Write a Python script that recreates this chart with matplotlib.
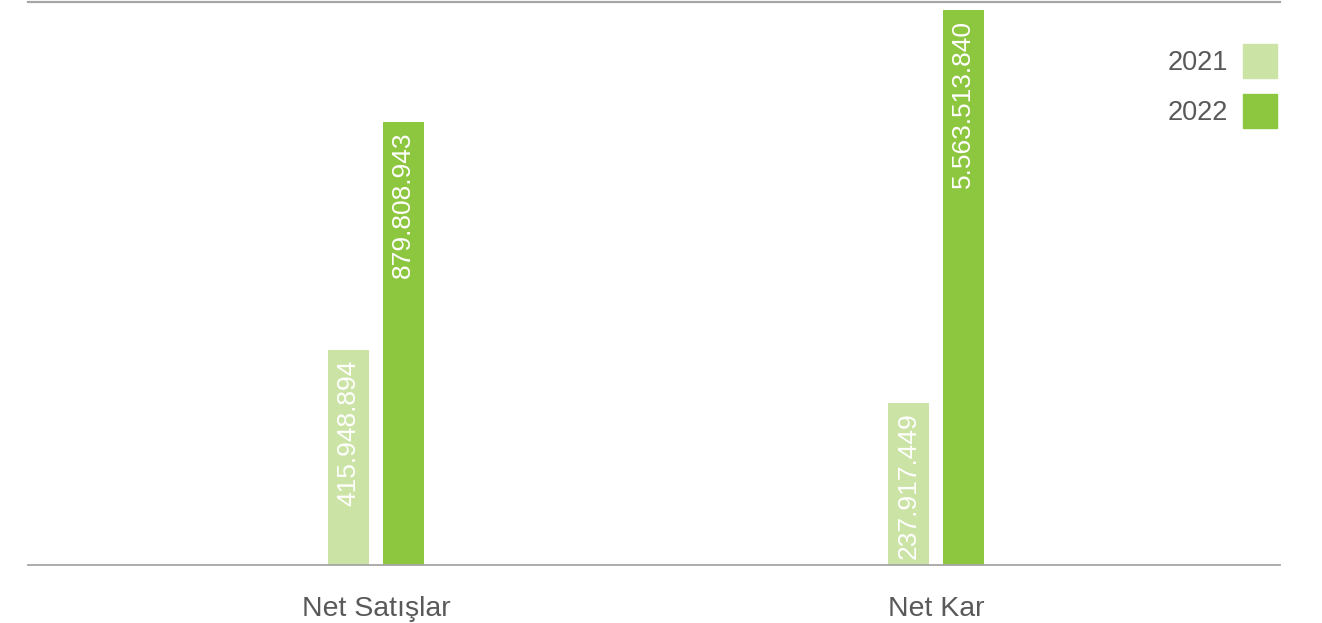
import matplotlib.pyplot as plt
from matplotlib.patches import Patch

plt.rcParams['font.family'] = ['Liberation Sans', 'DejaVu Sans']

categories = ['Net Satışlar', 'Net Kar']
years = ['2021', '2022']
# values printed on the bars
values_2021 = [415948894, 237917449]
values_2022 = [879808943, 5563513840]
# bar heights as drawn in the picture (% of plot height, the chart is not to scale)
heights_2021 = [38.2, 28.8]
heights_2022 = [78.7, 98.6]

colors = ['#cbe4a6', '#8dc63f']

fig = plt.figure(figsize=(13.22, 6.23), dpi=100)
ax = fig.add_axes([0.0212, 0.0931, 0.947, 0.9032])

x = range(len(categories))
w = 0.0735
off = 0.0488
for i, (hs, vs) in enumerate([(heights_2021, values_2021), (heights_2022, values_2022)]):
    xs = [xi + (2 * i - 1) * off for xi in x]
    ax.bar(xs, hs, width=w, color=colors[i], zorder=2)
    for xx, h, v in zip(xs, hs, vs):
        ax.annotate(f"{v:,}".replace(",", "."), xy=(xx, h), xytext=(0, -7),
                    textcoords='offset points', rotation=90, ha='center', va='top',
                    color='white', fontsize=19, zorder=3)

ax.set_xlim(-0.621, 1.614)
ax.set_ylim(0, 100)
ax.set_yticks([])
ax.set_xticks(list(x))
ax.set_xticklabels(categories, fontsize=20.5, color='#595959')
ax.tick_params(axis='x', length=0, pad=22)

for s in ['left', 'right']:
    ax.spines[s].set_visible(False)
ax.spines['top'].set_color('#a6a6a6')
ax.spines['top'].set_linewidth(1.6)
ax.spines['bottom'].set_color('#a6a6a6')
ax.spines['bottom'].set_linewidth(1.3)

handles = [Patch(color=c) for c in colors]
leg = fig.legend(handles, years, loc='upper right', bbox_to_anchor=(1277 / 1322, 1 - 44 / 623),
                 frameon=False, markerfirst=False, fontsize=19.5, borderpad=0, borderaxespad=0,
                 handlelength=1.26, handleheight=1.55, handletextpad=0.55, labelspacing=0.6)
for t in leg.get_texts():
    t.set_color('#595959')

fig.savefig('out.png', dpi=100)
